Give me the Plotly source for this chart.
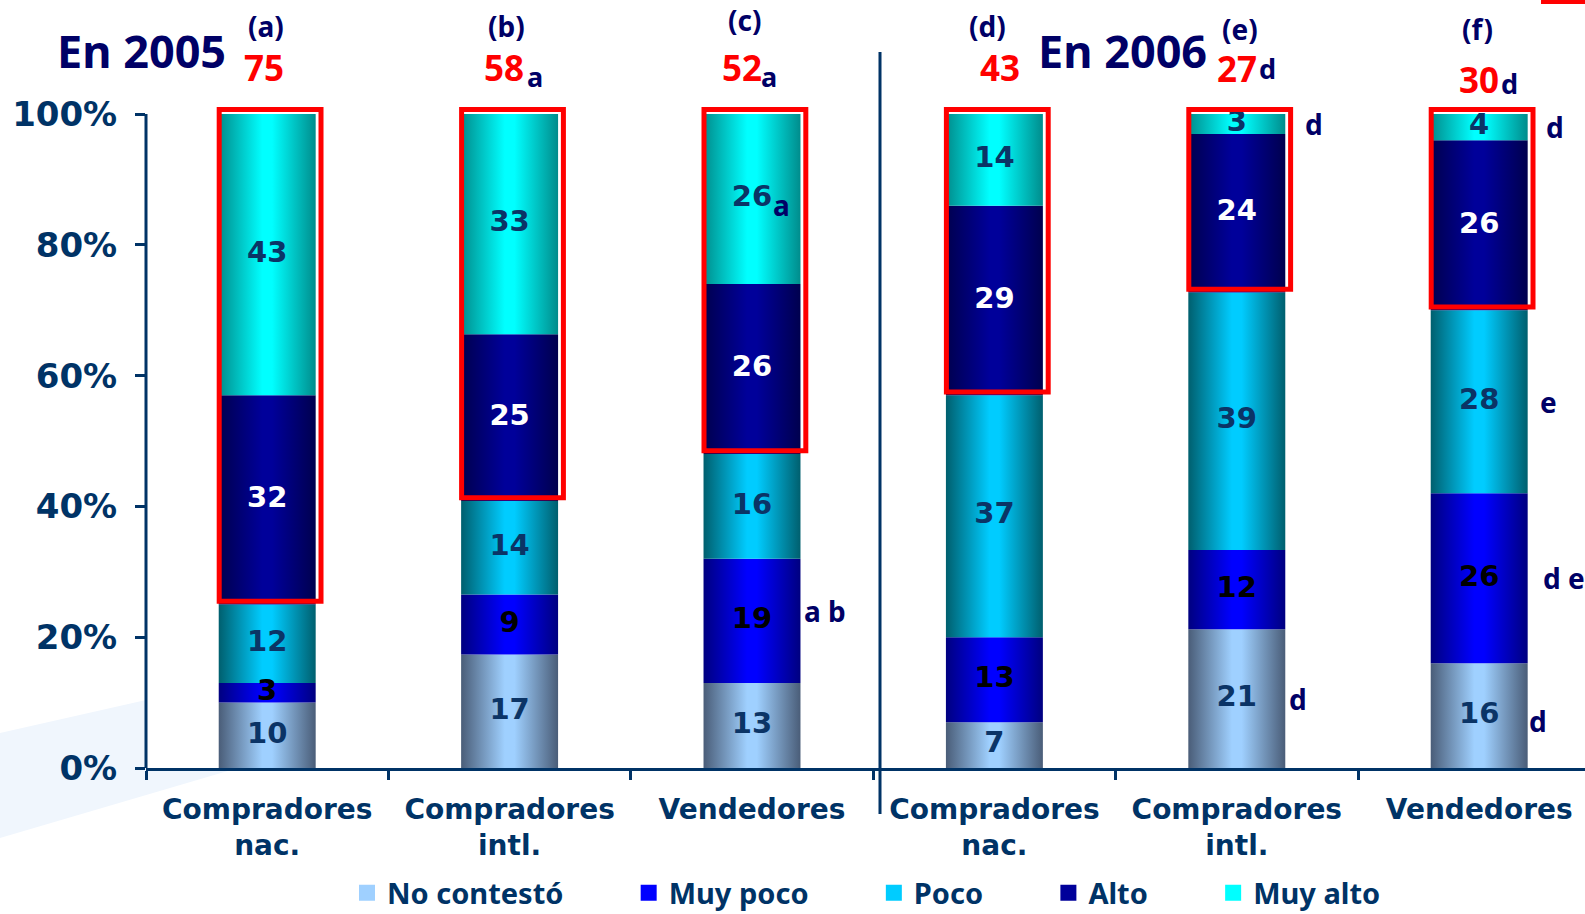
import numpy as np
import plotly.graph_objects as go

# ---------------- data ----------------
categories = ["Compradores<br>nac.", "Compradores<br>intl.", "Vendedores",
              "Compradores<br>nac.", "Compradores<br>intl.", "Vendedores"]
group_letters = ["(a)", "(b)", "(c)", "(d)", "(e)", "(f)"]
top2_marks = ["", "a", "a", "", "d", "d"]
series_names = ["No contestó", "Muy poco", "Poco", "Alto", "Muy alto"]
no_contesto = [10, 17, 13, 7, 21, 16]
muy_poco = [3, 9, 19, 13, 12, 26]
poco = [12, 14, 16, 37, 39, 28]
alto = [32, 25, 26, 29, 24, 26]
muy_alto = [43, 33, 26, 14, 3, 4]
year_titles = ["En 2005", "En 2006"]
y_ticks = [0, 20, 40, 60, 80, 100]
y_tick_labels = ["0%", "20%", "40%", "60%", "80%", "100%"]
# significance letters: (column, series index, text)
sig_letters = [(2, 4, "a"), (2, 1, "a b"), (4, 0, "d"), (4, 4, "d"),
               (5, 4, "d"), (5, 2, "e"), (5, 1, "d e"), (5, 0, "d")]

# ---------------- styling ----------------
edge_cols = ["#4A5D78", "#000080", "#005F6E", "#00004E", "#008C8C"]
mid_cols = ["#9FD0FF", "#0000FF", "#00CCFF", "#00009A", "#00FFFF"]
label_cols = ["#0B3466", "#000000", "#0B3466", "#FFFFFF", "#0B3466"]
NAVY = "#000066"
AX = "#003366"
BOLD = "DejaVu Sans"
NARROW = "Noto Sans"

# plot-area geometry (px)
L, R, T, B = 146, 1585, 101, 768
W, H = 1585, 914
cat_px = 242.4
x_range = [-0.5, -0.5 + (R - L) / cat_px]
y_range = [0, 102]
bar_w = 0.4


def py(p):
    return (B - p) / (B - T)


def px(p):
    return (p - L) / (R - L)


vals = np.array([no_contesto, muy_poco, poco, alto, muy_alto], dtype=float)
totals = vals.sum(axis=0)
pct = vals / totals * 100
cum = np.cumsum(pct, axis=0)
bottoms = cum - pct
top2 = [a + m for a, m in zip(alto, muy_alto)]

fig = go.Figure()

# gradient "cylinder" segments
for s in range(len(series_names)):
    cs = [[0, edge_cols[s]], [0.45, mid_cols[s]], [0.55, mid_cols[s]], [1, edge_cols[s]]]
    for i in range(len(categories)):
        x0, x1 = i - bar_w / 2, i + bar_w / 2
        y0, y1 = bottoms[s, i], cum[s, i]
        fig.add_trace(go.Scatter(
            x=[x0, x1, x1, x0, x0], y=[y0, y0, y1, y1, y0],
            mode="lines", fill="toself", line=dict(width=0, color=mid_cols[s]),
            fillgradient=dict(type="horizontal", colorscale=cs),
            showlegend=False, hoverinfo="skip"))

# value labels
for s in range(len(series_names)):
    fig.add_trace(go.Scatter(
        x=list(range(len(categories))), y=bottoms[s] + pct[s] / 2,
        text=[str(v) for v in vals[s].astype(int)], mode="text",
        textfont=dict(family=BOLD, size=29, color=label_cols[s], weight="bold"),
        showlegend=False, hoverinfo="skip"))

# legend entries
PAD = "\u00a0" * 8
for s in range(len(series_names)):
    fig.add_trace(go.Scatter(
        x=[None], y=[None], mode="markers", name=series_names[s] + PAD,
        marker=dict(symbol="square", size=17, color=mid_cols[s],
                    line=dict(width=0))))

shapes = []
# red boxes around the top-2 segments
for i in range(len(categories)):
    c = i + 0.012
    shapes.append(dict(type="rect", xref="x", yref="y",
                       x0=c - 0.21, x1=c + 0.21, y0=bottoms[3, i] + 0.5, y1=100.7,
                       line=dict(color="#FF0000", width=5), layer="above"))
# y axis line (0..100)
shapes.append(dict(type="line", xref="paper", yref="y", x0=0, x1=0, y0=0, y1=100,
                   line=dict(color=AX, width=3)))
# year separator
shapes.append(dict(type="line", xref="paper", yref="paper", x0=px(880), x1=px(880),
                   y0=py(52), y1=py(814), line=dict(color=AX, width=3)))
# red corner mark
shapes.append(dict(type="rect", xref="paper", yref="paper", x0=px(1541), x1=px(1590),
                   y0=py(4), y1=py(-2), line=dict(width=0), fillcolor="#FF0000"))
# faint background swoosh (outside plot area)
pts = [(0, 733), (146, 700), (146, 768), (238, 768), (0, 838)]
path = "M" + " L".join(f"{px(a):.5f},{py(b):.5f}" for a, b in pts) + " Z"
shapes.append(dict(type="path", xref="paper", yref="paper", path=path,
                   fillcolor="#F0F6FD", line=dict(width=0), layer="below"))

ann = []
# year titles
for t, cx in zip(year_titles, [141, 1122]):
    ann.append(dict(text=t, xref="paper", yref="paper", x=px(cx), y=py(51),
                    showarrow=False, xanchor="center", yanchor="middle",
                    font=dict(family=NARROW, size=45, color=NAVY, weight="bold")))
# header letters / top-2 totals
letter_dx = [-1, -3, -8, -7, 3, -2]
letter_y = [26, 26, 20, 26, 29, 29]
num_dx = [-3, -6, -10, 6, 0, 0]
num_y = [67, 67, 67, 67, 68, 80]
mark_dx = [0, 25, 17, 0, 31, 30]
mark_y = [77, 77, 77, 77, 68, 83]
for i in range(len(categories)):
    ann.append(dict(text=group_letters[i], xref="x", yref="paper", x=i, xshift=letter_dx[i],
                    y=py(letter_y[i]), showarrow=False, yanchor="middle",
                    font=dict(family=NARROW, size=28, color=NAVY, weight="bold")))
    ann.append(dict(text=str(top2[i]), xref="x", yref="paper", x=i, xshift=num_dx[i],
                    y=py(num_y[i]), showarrow=False, yanchor="middle",
                    font=dict(family=NARROW, size=35, color="#FF0000", weight="bold")))
    if top2_marks[i]:
        ann.append(dict(text=top2_marks[i], xref="x", yref="paper", x=i, xshift=mark_dx[i],
                        y=py(mark_y[i]), showarrow=False, yanchor="middle",
                        font=dict(family=NARROW, size=27, color=NAVY, weight="bold")))
# significance letters next to segments
sig_dx = [29, 73, 61, 77, 76, 69, 62, 59]
sig_dy = [6, -10, 0, 0, 0, 0, 0, 5]
sig_anchor = ["center", "center", "center", "center", "center", "center", "left", "center"]
for k, (i, s, t) in enumerate(sig_letters):
    ann.append(dict(text=t, xref="x", yref="y", x=i, xshift=sig_dx[k],
                    y=bottoms[s, i] + pct[s, i] / 2, yshift=-sig_dy[k],
                    showarrow=False, xanchor=sig_anchor[k], yanchor="middle",
                    font=dict(family=NARROW, size=28, color=NAVY, weight="bold")))

fig.update_layout(
    width=W, height=H,
    margin=dict(l=L, r=W - R, t=T, b=H - B, autoexpand=False),
    paper_bgcolor="white", plot_bgcolor="white",
    shapes=shapes, annotations=ann,
    showlegend=True,
    legend=dict(orientation="h", x=px(347), xanchor="left", y=py(893), yanchor="middle",
                font=dict(family=NARROW, size=29, color=AX, weight="bold"),
                itemclick=False, bgcolor="rgba(0,0,0,0)"),
    xaxis=dict(range=x_range, tickvals=list(range(len(categories))), ticktext=categories,
               ticks="", showline=True, linecolor=AX, linewidth=3, showgrid=False,
               zeroline=False, ticklabelstandoff=14, automargin=False,
               tickfont=dict(family=BOLD, size=28, color=AX, weight="bold"),
               minor=dict(tickvals=[k - 0.5 for k in range(7)], ticks="outside",
                          ticklen=9, tickwidth=2.5, tickcolor=AX, showgrid=False)),
    yaxis=dict(range=y_range, tickvals=y_ticks, ticktext=y_tick_labels, ticks="outside",
               ticklen=10, tickwidth=2.5, tickcolor=AX, showline=False, showgrid=False,
               zeroline=False, ticklabelstandoff=11, automargin=False,
               tickfont=dict(family=BOLD, size=34, color=AX, weight="bold")),
)

fig.write_html("out.html", config={"displayModeBar": False},
               post_script="document.body.style.margin='0px';")
